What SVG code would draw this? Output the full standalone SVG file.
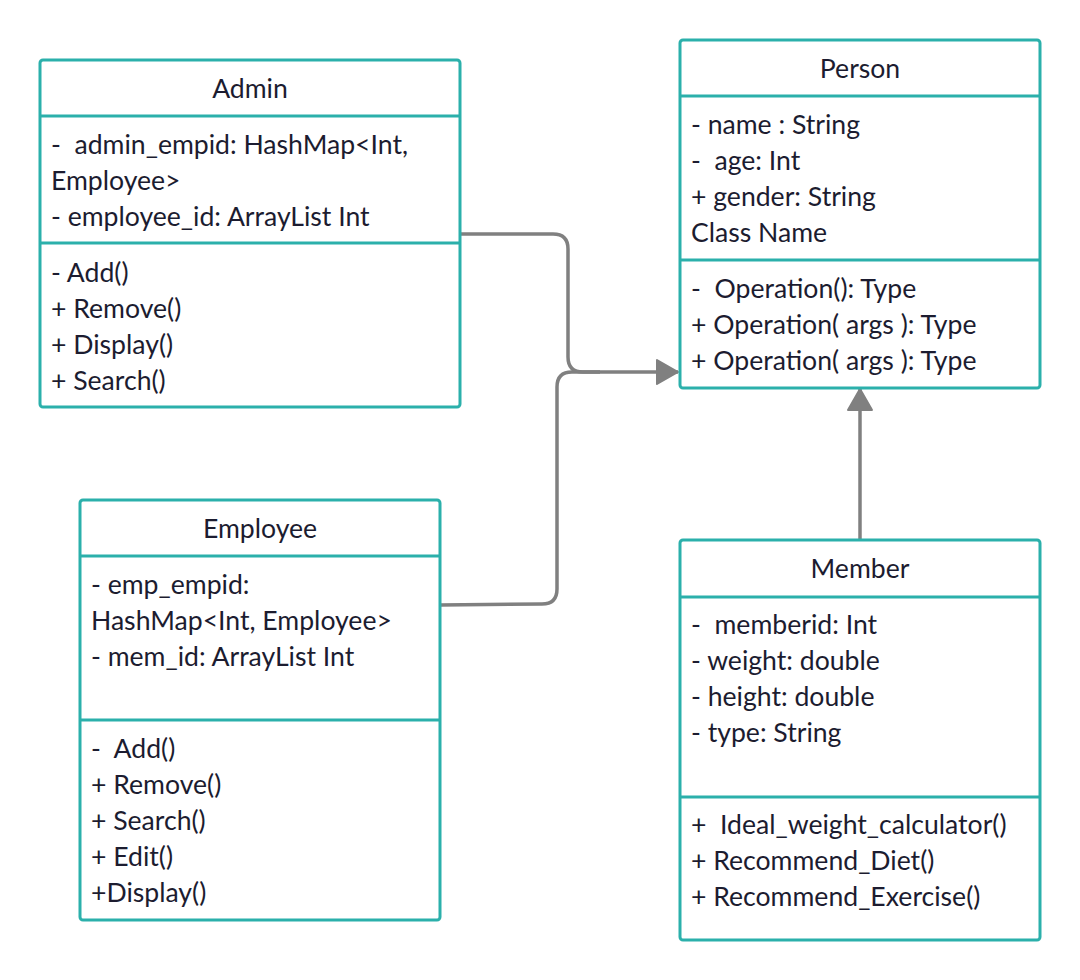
<svg xmlns="http://www.w3.org/2000/svg" width="1080" height="980" viewBox="0 0 1080 980">
<style>
.box{fill:#ffffff;stroke:#2bb0ab;stroke-width:3}
.div{stroke:#2bb0ab;stroke-width:3}
.t{font-family:Lato,"Open Sans","Liberation Sans",sans-serif;font-size:26.6px;fill:#1c1c30}
.c{text-anchor:middle}
.conn{fill:none;stroke:#808080;stroke-width:3.5;stroke-linejoin:round}
</style>
<defs>
<marker id="arr" markerUnits="userSpaceOnUse" markerWidth="26" markerHeight="28" refX="22" refY="13" orient="auto">
<path d="M1,1 L22,13 L1,25 Z" fill="#808080" stroke="#808080" stroke-width="2" stroke-linejoin="round"/>
</marker>
</defs>
<g id="connectors">
<path class="conn" d="M460,234 L553,234 Q568,234 568,249 L568,357 Q568,372 583,372 L678,372" marker-end="url(#arr)"/>
<path class="conn" d="M440,605 L542,604 Q557,604 557,589 L557,387 Q557,372 572,372 L600,372"/>
<path class="conn" d="M860,540 L860,389" marker-end="url(#arr)"/>
</g>
<g id="admin">
<rect class="box" x="40" y="60" width="420" height="347" rx="3"/>
<line class="div" x1="40" y1="116" x2="460" y2="116"/>
<line class="div" x1="40" y1="243" x2="460" y2="243"/>
<text class="t c" x="250" y="98">Admin</text>
<text class="t" x="51" y="154" xml:space="preserve">-  admin_empid: HashMap&lt;Int,</text>
<text class="t" x="51" y="190">Employee&gt;</text>
<text class="t" x="51" y="226">- employee_id: ArrayList Int</text>
<text class="t" x="51" y="282">- Add()</text>
<text class="t" x="51" y="318">+ Remove()</text>
<text class="t" x="51" y="354">+ Display()</text>
<text class="t" x="51" y="390">+ Search()</text>
</g>
<g id="person">
<rect class="box" x="680" y="40" width="360" height="348" rx="3"/>
<line class="div" x1="680" y1="96" x2="1040" y2="96"/>
<line class="div" x1="680" y1="260" x2="1040" y2="260"/>
<text class="t c" x="860" y="78">Person</text>
<text class="t" x="691" y="134">- name : String</text>
<text class="t" x="691" y="170" xml:space="preserve">-  age: Int</text>
<text class="t" x="691" y="206">+ gender: String</text>
<text class="t" x="691" y="242">Class Name</text>
<text class="t" x="691" y="298" xml:space="preserve">-  Operation(): Type</text>
<text class="t" x="691" y="334">+ Operation( args ): Type</text>
<text class="t" x="691" y="370">+ Operation( args ): Type</text>
</g>
<g id="employee">
<rect class="box" x="80" y="500" width="360" height="420" rx="3"/>
<line class="div" x1="80" y1="556" x2="440" y2="556"/>
<line class="div" x1="80" y1="720" x2="440" y2="720"/>
<text class="t c" x="260" y="538">Employee</text>
<text class="t" x="91" y="594">- emp_empid:</text>
<text class="t" x="91" y="630">HashMap&lt;Int, Employee&gt;</text>
<text class="t" x="91" y="666">- mem_id: ArrayList Int</text>
<text class="t" x="91" y="758" xml:space="preserve">-  Add()</text>
<text class="t" x="91" y="794">+ Remove()</text>
<text class="t" x="91" y="830">+ Search()</text>
<text class="t" x="91" y="866">+ Edit()</text>
<text class="t" x="91" y="902">+Display()</text>
</g>
<g id="member">
<rect class="box" x="680" y="540" width="360" height="400" rx="3"/>
<line class="div" x1="680" y1="597" x2="1040" y2="597"/>
<line class="div" x1="680" y1="797" x2="1040" y2="797"/>
<text class="t c" x="860" y="578">Member</text>
<text class="t" x="691" y="634" xml:space="preserve">-  memberid: Int</text>
<text class="t" x="691" y="670">- weight: double</text>
<text class="t" x="691" y="706">- height: double</text>
<text class="t" x="691" y="742">- type: String</text>
<text class="t" x="691" y="834" xml:space="preserve">+  Ideal_weight_calculator()</text>
<text class="t" x="691" y="870">+ Recommend_Diet()</text>
<text class="t" x="691" y="906">+ Recommend_Exercise()</text>
</g>
</svg>
